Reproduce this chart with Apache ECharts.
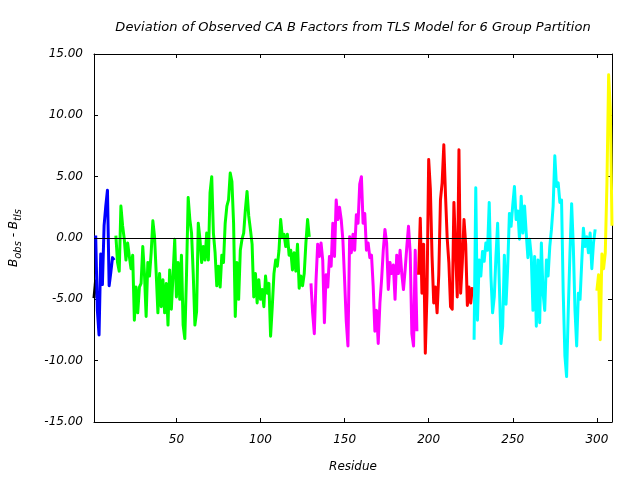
<!DOCTYPE html>
<html>
<head>
<meta charset="utf-8">
<script src="https://cdn.jsdelivr.net/npm/echarts@6/dist/echarts.min.js"></script>
<style>html,body{margin:0;padding:0;background:#fff}#c{width:640px;height:480px}</style>
</head>
<body>
<div id="c"></div>
<script>
const titleText = 'Deviation of Observed CA B Factors from TLS Model for 6 Group Partition';
const xName = 'Residue';
const xTicks = [50, 100, 150, 200, 250, 300];

const blackStart = 1;
const blackVals = [-4.9, -3.4];
const blueStart = 2;
const blueVals = [0.2, -5.9, -7.9, -1.3, -3.8, 1.0, 2.6, 3.9, -3.9, -2.8, -1.6, -1.8];
const greenStart = 14;
const greenVals = [0.2, -2.0, -2.7, 2.6, 1.0, -0.1, -1.8, -0.4, -1.5, -2.5,
  -1.4, -6.7, -4.0, -6.1, -4.0, -3.7, -0.7, -2.9, -6.4, -2.0,
  -3.1, -1.2, 1.4, 0.1, -2.9, -6.1, -2.9, -5.6, -3.4, -6.1,
  -3.7, -7.1, -2.6, -5.8, -3.0, -0.1, -4.8, -2.0, -5.0, -1.4,
  -7.1, -8.2, -3.0, 3.3, 1.5, 0.4, -2.9, -7.1, -6.0, 1.2,
  -0.1, -2.0, -0.7, -1.8, 0.4, -1.8, 3.7, 5.0, 0.4, -1.2,
  -3.9, -2.3, -4.0, -1.4, -2.0, 1.2, 2.6, 3.1, 5.3, 4.6,
  1.2, -6.4, -2.0, -5.0, -1.0, -0.1, 0.4, 2.3, 3.8, 1.8,
  0.7, -0.5, -4.8, -2.9, -5.3, -3.4, -5.0, -4.2, -5.6, -3.1,
  -4.5, -3.7, -8.0, -5.6, -2.9, -1.8, -2.3, -1.0, 1.5, 0.1,
  0.3, -0.7, 0.3, -1.4, -1.0, -2.6, -1.2, -2.7, -0.5, -4.1,
  -3.1, -3.9, -2.9, -0.4, 1.5, 0.1];
const magentaStart = 130;
const magentaVals = [-3.7, -6.1, -7.8, -3.5, -0.5, -1.5, -0.4, -1.8, -6.9, -3.0,
  -4.0, -1.5, -2.3, 1.2, -1.5, 3.1, 1.5, 2.5, 1.5, -0.2,
  -3.4, -6.8, -8.8, 0.1, -1.2, 0.3, -1.0, 1.9, 1.2, 4.4,
  5.0, 1.2, 2.0, -1.0, -0.4, -1.6, -1.4, -3.9, -7.6, -5.9,
  -8.6, -5.3, -3.4, -1.0, 0.7, -0.4, -4.2, -2.0, -2.9, -2.2,
  -5.0, -1.4, -2.9, -1.0, -2.9, -4.2, -2.6, -0.7, 0.95, -1.2,
  -7.8, -8.8, -1.0, -7.6];
const redStart = 194;
const redVals = [-3.0, 1.6, -4.5, -0.5, -9.4, -4.5, 6.4, 4.0, -1.5, -5.3,
  -4.0, -6.1, -3.0, 3.1, 4.5, 7.6, 3.5, 0.0, -2.0, -5.6,
  -5.8, 2.9, 3.0, -4.8, 7.2, -4.5, -2.0, 1.5, -0.5, -5.5,
  -4.0, -5.3, -4.0];
const cyanStart = 227;
const cyanVals = [-8.3, 4.1, -6.7, -1.8, -3.1, -1.1, -1.9, -0.4, -1.0, 2.9,
  -3.1, -6.1, -4.8, -1.5, 1.2, -3.7, -8.6, -7.2, -1.4, -5.4,
  -2.3, 2.0, 0.95, 2.7, 4.2, 1.5, 2.2, -0.1, 3.4, 0.4,
  2.6, 0.4, -1.6, -0.1, -1.5, -5.9, -1.5, -7.2, -1.8, -6.9,
  -0.4, -4.5, -5.9, -1.8, -3.1, -0.7, 0.7, 2.6, 6.7, 4.2,
  4.5, 2.9, 3.1, -4.5, -9.6, -11.3, -5.9, -1.2, 2.8, -0.7,
  -5.9, -8.8, -4.5, -5.0, -2.0, 0.8, -0.7, 0.1, -1.2, 0.4,
  -2.5, -0.4, 0.7];
const yellowStart = 300;
const yellowVals = [-4.3, -3.0, -8.3, -1.3, -2.5, -1.2, 4.5, 13.3, 10.5, 1.0];

const groups = [
  {name: 'g0', start: blackStart, vals: blackVals, color: '#000000'},
  {name: 'g1', start: blueStart, vals: blueVals, color: '#0000ff'},
  {name: 'g2', start: greenStart, vals: greenVals, color: '#00ff00'},
  {name: 'g3', start: magentaStart, vals: magentaVals, color: '#ff00ff'},
  {name: 'g4', start: redStart, vals: redVals, color: '#ff0000'},
  {name: 'g5', start: cyanStart, vals: cyanVals, color: '#00ffff'},
  {name: 'g6', start: yellowStart, vals: yellowVals, color: '#ffff00'}
];

const FONT = '"DejaVu Sans", sans-serif';
const chart = echarts.init(document.getElementById('c'), null, {renderer: 'canvas'});

const series = groups.map((g, gi) => ({
  name: g.name,
  type: 'line',
  data: g.vals.map((v, i) => [g.start + i, v]),
  symbol: 'none',
  showSymbol: false,
  animation: false,
  lineStyle: {color: g.color, width: 3, join: 'round'},
  itemStyle: {color: g.color},
  xAxisIndex: 0,
  yAxisIndex: 0,
  z: 3,
  markLine: gi === 0 ? {
    silent: true, symbol: ['none', 'none'], animation: false,
    label: {show: false},
    lineStyle: {color: '#000', type: 'solid', width: 1},
    data: [{yAxis: 0}]
  } : undefined
}));

// y-axis name with subscripts, drawn as rotated text pieces
const ctx = document.createElement('canvas').getContext('2d');
const mainFont = 'italic 12px "DejaVu Sans"';
const subFont = 'italic 10px "DejaVu Sans"';
const parts = [['B', false], ['obs', true], [' - B', false], ['tls', true]];
const widths = parts.map(p => { ctx.font = p[1] ? subFont : mainFont; return ctx.measureText(p[0]).width; });
const total = widths.reduce((a, b) => a + b, 0);
let cx = -total / 2;
const yLabelChildren = parts.map((p, i) => {
  const el = {
    type: 'text', x: cx, y: p[1] ? 4 : 0,
    style: {text: p[0], fill: '#000', font: p[1] ? subFont : mainFont, align: 'left', verticalAlign: 'middle'}
  };
  cx += widths[i];
  return el;
});

const tickLabelStyle = {color: '#000', fontFamily: FONT, fontStyle: 'italic', fontSize: 12};

chart.setOption({
  animation: false,
  backgroundColor: '#fff',
  title: {
    text: titleText, left: 348, top: 16, textAlign: 'center',
    textStyle: {fontFamily: FONT, fontStyle: 'italic', fontWeight: 'normal', fontSize: 13, color: '#000'}
  },
  grid: {left: 94, right: 28, top: 54, bottom: 58, containLabel: false},
  xAxis: [
    {
      type: 'value', position: 'bottom', min: 1, max: 309,
      name: xName, nameLocation: 'middle', nameGap: 39,
      nameTextStyle: tickLabelStyle,
      axisLine: {show: true, onZero: false, lineStyle: {color: '#000', width: 1}},
      axisTick: {show: true, inside: true, length: 4, customValues: xTicks, lineStyle: {color: '#000'}},
      axisLabel: {show: true, margin: 12, customValues: xTicks, ...tickLabelStyle},
      splitLine: {show: false}
    },
    {
      type: 'value', position: 'top', min: 1, max: 309,
      axisLine: {show: true, onZero: false, lineStyle: {color: '#000', width: 1}},
      axisTick: {show: true, inside: true, length: 4, customValues: xTicks, lineStyle: {color: '#000'}},
      axisLabel: {show: false, customValues: xTicks},
      splitLine: {show: false}
    }
  ],
  yAxis: [
    {
      type: 'value', position: 'left', min: -15, max: 15, interval: 5,
      axisLine: {show: true, onZero: false, lineStyle: {color: '#000', width: 1}},
      axisTick: {show: true, inside: true, length: 4, lineStyle: {color: '#000'}},
      axisLabel: {show: true, margin: 11, formatter: v => v.toFixed(2), ...tickLabelStyle},
      splitLine: {show: false}
    },
    {
      type: 'value', position: 'right', min: -15, max: 15, interval: 5,
      axisLine: {show: true, onZero: false, lineStyle: {color: '#000', width: 1}},
      axisTick: {show: true, inside: true, length: 4, lineStyle: {color: '#000'}},
      axisLabel: {show: false},
      splitLine: {show: false}
    }
  ],
  graphic: [{
    type: 'group', x: 14, y: 238, rotation: Math.PI / 2,
    children: yLabelChildren
  }],
  series: series
});
</script>
</body>
</html>
